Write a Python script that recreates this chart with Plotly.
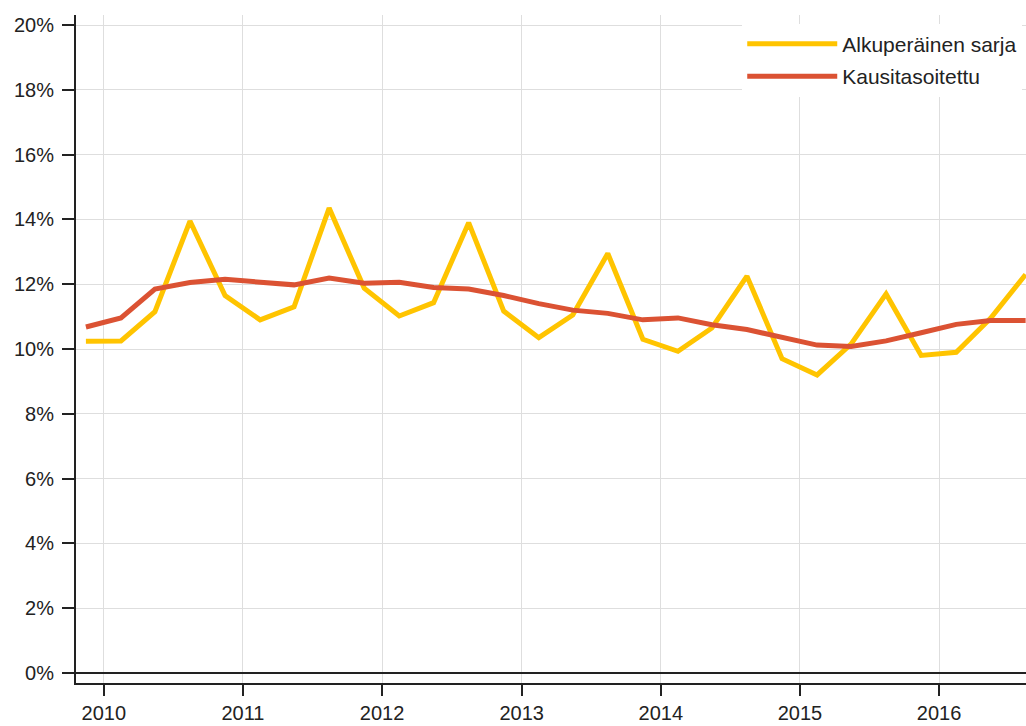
import pandas as pd
import plotly.graph_objects as go

# Quarterly periods (plotted at mid-quarter)
quarters = ["2009Q4",
            "2010Q1", "2010Q2", "2010Q3", "2010Q4",
            "2011Q1", "2011Q2", "2011Q3", "2011Q4",
            "2012Q1", "2012Q2", "2012Q3", "2012Q4",
            "2013Q1", "2013Q2", "2013Q3", "2013Q4",
            "2014Q1", "2014Q2", "2014Q3", "2014Q4",
            "2015Q1", "2015Q2", "2015Q3", "2015Q4",
            "2016Q1", "2016Q2", "2016Q3"]

alkuperainen = [10.24, 10.25, 11.15, 13.95, 11.65, 10.9, 11.3, 14.35,
                11.88, 11.02, 11.43, 13.9, 11.17, 10.35, 11.05, 12.95,
                10.3, 9.93, 10.65, 12.25, 9.7, 9.2, 10.15, 11.7,
                9.8, 9.9, 10.95, 12.3]

kausitasoitettu = [10.68, 10.96, 11.85, 12.05, 12.15, 12.08, 11.98, 12.19,
                   12.03, 12.06, 11.9, 11.85, 11.65, 11.4, 11.2, 11.1,
                   10.9, 10.96, 10.75, 10.6, 10.35, 10.12, 10.08, 10.25,
                   10.5, 10.76, 10.88, 10.88]

series_names = ["Alkuperäinen sarja", "Kausitasoitettu"]
year_labels = ["2010", "2011", "2012", "2013", "2014", "2015", "2016"]

# mid-quarter dates
x_dates = [pd.Period(q, freq="Q").start_time + pd.DateOffset(months=1, days=14)
           for q in quarters]

FONT = "Liberation Sans, Arial, sans-serif"

fig = go.Figure()
fig.add_trace(go.Scatter(x=x_dates, y=alkuperainen, mode="lines",
                         name=series_names[0], legendgroup="a",
                         line=dict(color="#FFC400", width=5)))
fig.add_trace(go.Scatter(x=x_dates, y=kausitasoitettu, mode="lines",
                         name=series_names[1], legendgroup="b",
                         line=dict(color="#DB5233", width=5)))

fig.update_layout(
    width=1026, height=726,
    margin=dict(l=76, r=0, t=15, b=43),
    plot_bgcolor="white", paper_bgcolor="white",
    font=dict(family=FONT, size=20, color="#222222"),
    showlegend=True,
    legend=dict(x=0.7013, xanchor="left", y=0.987, yanchor="top",
                bgcolor="white", borderwidth=0,
                font=dict(family=FONT, size=21, color="#222222"),
                itemwidth=90, tracegroupgap=2, traceorder="grouped"),
    xaxis=dict(
        type="date",
        automargin=False,
        range=["2009-10-20", "2016-08-16"],
        tickvals=[pd.Timestamp(y + "-01-01") for y in year_labels],
        ticktext=year_labels,
        showgrid=True, gridcolor="#dedede", gridwidth=1,
        showline=True, linecolor="#222222", linewidth=2,
        ticks="outside", ticklen=11, tickwidth=2, tickcolor="#222222",
        zeroline=False,
    ),
    yaxis=dict(
        automargin=False,
        range=[-0.31, 20.31],
        tickmode="linear", tick0=0, dtick=2,
        ticksuffix="%",
        ticklabelstandoff=4,
        showgrid=True, gridcolor="#dedede", gridwidth=1,
        showline=True, linecolor="#222222", linewidth=2,
        ticks="outside", ticklen=12, tickwidth=2, tickcolor="#222222",
        zeroline=True, zerolinecolor="#222222", zerolinewidth=2,
    ),
)

fig.write_html(
    "out.html",
    config={"displayModeBar": False},
    post_script="document.body.style.margin='0';"
                "document.body.style.overflow='hidden';",
)
